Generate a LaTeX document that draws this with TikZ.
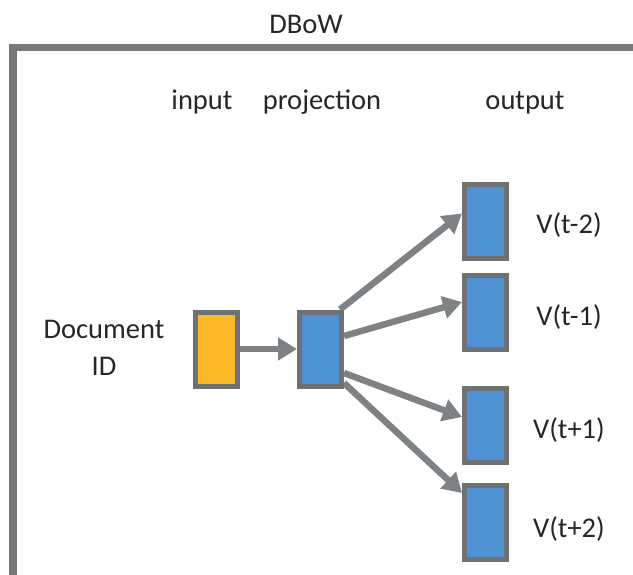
\documentclass[tikz,border=0pt]{standalone}
\usepackage{fontspec}
\setmainfont{Carlito}
\usetikzlibrary{arrows.meta}
\pgfdeclarelayer{background}
\pgfsetlayers{background,main}

\definecolor{framegray}{HTML}{767A7B}
\definecolor{edgegray}{HTML}{6E7273}
\definecolor{arrowgray}{HTML}{7E8284}
\definecolor{vecblue}{HTML}{4E92D4}
\definecolor{docgold}{HTML}{FCB827}
\definecolor{textgray}{HTML}{262626}

\begin{document}
\begin{tikzpicture}[x=1pt,y=-1pt,
  every node/.style={font=\fontsize{28.5}{37}\selectfont, text=textgray},
  label/.style={anchor=base, inner sep=0pt},
  vecbox/.style={draw=edgegray, line width=5pt, minimum width=42pt, minimum height=74pt, inner sep=0pt},
  arr/.style={draw=arrowgray, line width=6.5pt, -{Triangle[length=19pt,width=22pt]}}
]
\useasboundingbox (0,0) rectangle (633,574);

% open frame: left and top sides
\draw[framegray, line width=7.5pt, line join=miter] (13,580) -- (13,47.5) -- (640,47.5);

% titles
\node[label] (title) at (306,33) {DBoW};
\node[label] (inlab) at (202,109) {input};
\node[label] (projlab) at (322,109) {projection};
\node[label] (outlab) at (525,109) {output};

% document id (base anchor sits on the last line)
\node[align=center, inner sep=0pt, anchor=base] (doc) at (104,375) {Document\\ID};

% boxes
\node[vecbox, fill=docgold] (in) at (216.5,349) {};
\node[vecbox, fill=vecblue] (proj) at (320.5,349) {};
\node[vecbox, fill=vecblue] (o1) at (485.5,221.5) {};
\node[vecbox, fill=vecblue] (o2) at (485.5,312) {};
\node[vecbox, fill=vecblue] (o3) at (485.5,425) {};
\node[vecbox, fill=vecblue] (o4) at (485.5,522) {};

% output labels
\node[label] (l1) at (569,233) {V(t-2)};
\node[label] (l2) at (569,325) {V(t-1)};
\node[label] (l3) at (569,438) {V(t+1)};
\node[label] (l4) at (569,537) {V(t+2)};

% connectors, kept behind the boxes
\begin{pgfonlayer}{background}
\draw[arr] (in.east) -- (proj.west);
\draw[arr] ([xshift=-4pt]proj.north east) -- ([yshift=8pt]o1.west);
\draw[arr] ([yshift=13pt]proj.east) -- ([yshift=10pt]o2.west);
\draw[arr] ([yshift=-24pt]proj.east) -- ([yshift=8pt]o3.west);
\draw[arr] ([yshift=-34pt]proj.east) -- ([yshift=29pt]o4.west);
\end{pgfonlayer}
\end{tikzpicture}
\end{document}
